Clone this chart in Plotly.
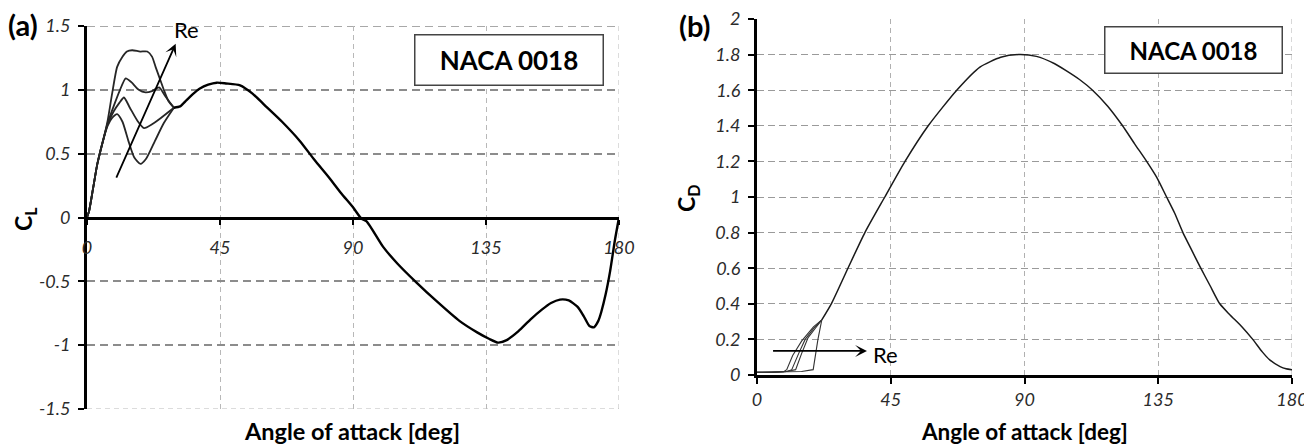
import plotly.graph_objects as go

# ---- (a) lift coefficient, NACA 0018 -------------------------------------
# stall branches for increasing Reynolds number (0 deg up to the merge point)
cl_b1_alpha = [0, 0.7, 2, 3.5, 5.75, 7, 8.5, 10.2, 12, 14, 16, 18.1, 20, 23, 26, 29.4]
cl_b1 = [0, 0.05, 0.22, 0.42, 0.63, 0.72, 0.78, 0.81, 0.75, 0.60, 0.47, 0.42, 0.46, 0.60, 0.74, 0.86]

cl_b2_alpha = [0, 0.7, 2, 3.5, 5.75, 7, 9, 11, 12.5, 14.5, 17, 19.3, 22, 25, 29.4]
cl_b2 = [0, 0.05, 0.22, 0.42, 0.63, 0.73, 0.83, 0.90, 0.94, 0.86, 0.76, 0.70, 0.73, 0.78, 0.86]

cl_b3_alpha = [0, 0.7, 2, 3.5, 5.75, 7, 9, 11, 13.1, 15, 17.5, 19.8, 22, 24.4, 26.5, 29.4]
cl_b3 = [0, 0.05, 0.22, 0.42, 0.63, 0.74, 0.87, 0.99, 1.09, 1.06, 1.00, 0.98, 0.99, 1.02, 0.95, 0.86]

cl_b4_alpha = [0, 0.7, 2, 3.5, 5.75, 7, 8.5, 10.2, 12, 13.5, 15.3, 18, 20.4, 22, 23.2, 24.6, 26, 27.6, 29.4]
cl_b4 = [0, 0.05, 0.22, 0.42, 0.63, 0.76, 0.97, 1.18, 1.26, 1.30, 1.31, 1.30, 1.30, 1.26, 1.18, 1.09, 1.00, 0.91, 0.86]

# post-stall curve shared by all Reynolds numbers
cl_alpha = [29.4, 31.5, 33.7, 36, 38.2, 41, 43.9, 47, 51.8, 56, 60.8, 66, 72, 77, 82, 86,
            90, 92.9, 94.6, 100.2, 105, 111.5, 118, 126, 132, 136, 139.1, 142, 146, 150,
            154, 157, 160, 163, 166, 168, 170, 171.5, 173, 174, 175.5, 177, 178.6, 180]
cl = [0.86, 0.87, 0.92, 0.97, 1.01, 1.04, 1.056, 1.05, 1.035, 0.97, 0.865, 0.75, 0.60, 0.45,
      0.31, 0.19, 0.08, -0.01, -0.03, -0.23, -0.36, -0.51, -0.65, -0.81, -0.90, -0.95, -0.98,
      -0.96, -0.89, -0.80, -0.72, -0.67, -0.643, -0.65, -0.70, -0.77, -0.85, -0.86, -0.81,
      -0.74, -0.60, -0.42, -0.18, 0.0]

# ---- (b) drag coefficient, NACA 0018 -------------------------------------
cd_b1_alpha = [0, 5, 9, 10, 12, 15, 17, 19, 21.8]
cd_b1 = [0.015, 0.015, 0.018, 0.03, 0.11, 0.19, 0.23, 0.27, 0.31]
cd_b2_alpha = [0, 5, 10, 11.7, 14, 16.2, 19, 21.8]
cd_b2 = [0.015, 0.015, 0.02, 0.03, 0.12, 0.20, 0.26, 0.31]
cd_b3_alpha = [0, 5, 10, 13, 15, 17.2, 19.5, 21.8]
cd_b3 = [0.015, 0.015, 0.02, 0.03, 0.12, 0.21, 0.26, 0.31]
cd_b4_alpha = [0, 5, 10, 15, 18.9, 20.5, 21.8]
cd_b4 = [0.015, 0.015, 0.018, 0.02, 0.03, 0.20, 0.31]

cd_alpha = [21.8, 25, 30.6, 36.3, 43, 49.8, 57.6, 67.2, 75, 82, 88, 94, 100, 104, 108.5, 112.9,
            118, 123, 127, 131.1, 134.5, 137.8, 140.5, 143.3, 146, 149, 152.5, 155.7, 159,
            163.2, 166.8, 170, 172.5, 176, 178, 180]
cd = [0.31, 0.40, 0.60, 0.80, 1.00, 1.20, 1.40, 1.60, 1.73, 1.785, 1.80, 1.79, 1.75, 1.71,
      1.66, 1.60, 1.51, 1.40, 1.30, 1.20, 1.11, 1.00, 0.91, 0.80, 0.71, 0.61, 0.50, 0.40,
      0.34, 0.27, 0.20, 0.13, 0.085, 0.047, 0.035, 0.03]

# ---- axis ticks ------------------------------------------------------------
alpha_ticks = [0, 45, 90, 135, 180]
alpha_ticktext = ["0", "45", "90", "135", "180"]
cl_ticks = [-1.5, -1, -0.5, 0, 0.5, 1, 1.5]
cl_ticktext = ["-1.5", "-1", "-0.5", "0", "0.5", "1", "1.5"]
cd_ticks = [0, 0.2, 0.4, 0.6, 0.8, 1.0, 1.2, 1.4, 1.6, 1.8, 2.0]
cd_ticktext = ["0", "0.2", "0.4", "0.6", "0.8", "1", "1.2", "1.4", "1.6", "1.8", "2"]

W, H = 1304, 446
FONT = "Lato"
TICKFONT = dict(family=FONT, size=18, color="#2b2b2b", style="italic")

fig = go.Figure()

for a, c in [(cl_b1_alpha, cl_b1), (cl_b2_alpha, cl_b2), (cl_b3_alpha, cl_b3), (cl_b4_alpha, cl_b4)]:
    fig.add_trace(go.Scatter(x=a, y=c, mode="lines", xaxis="x", yaxis="y",
                             line=dict(color="#262626", width=1.8, shape="spline", smoothing=0.6),
                             hoverinfo="skip"))
fig.add_trace(go.Scatter(x=cl_alpha, y=cl, mode="lines", xaxis="x", yaxis="y",
                         line=dict(color="#000000", width=2.4, shape="spline", smoothing=0.6)))

for a, c in [(cd_b1_alpha, cd_b1), (cd_b2_alpha, cd_b2), (cd_b3_alpha, cd_b3), (cd_b4_alpha, cd_b4)]:
    fig.add_trace(go.Scatter(x=a, y=c, mode="lines", xaxis="x2", yaxis="y2",
                             line=dict(color="#333333", width=1.1),
                             hoverinfo="skip"))
fig.add_trace(go.Scatter(x=cd_alpha, y=cd, mode="lines", xaxis="x2", yaxis="y2",
                         line=dict(color="#1a1a1a", width=1.5, shape="spline", smoothing=0.6)))

# plot-area domains (pixels -> paper fractions)
xd1 = [87 / W, 619 / W]
yd1 = [1 - 409 / H, 1 - 26 / H]
xd2 = [757 / W, 1292 / W]
yd2 = [1 - 375 / H, 1 - 19 / H]

# in panel (a) the angle axis runs along CL = 0
cl_lo, cl_hi = cl_ticks[0], cl_ticks[-1]
zero_pos = yd1[0] + (0 - cl_lo) / (cl_hi - cl_lo) * (yd1[1] - yd1[0])

GRID_V = dict(color="#b8b8b8", width=1, dash="5px,4px")
GRID_H1 = dict(color="#8c8c8c", width=1.6, dash="8px,5px")
GRID_H2 = dict(color="#9a9a9a", width=1.3, dash="7px,4px")

fig.update_layout(
    width=W, height=H,
    margin=dict(l=0, r=0, t=0, b=0),
    paper_bgcolor="white", plot_bgcolor="white",
    showlegend=False,
    xaxis=dict(domain=xd1, range=[0, 180], anchor="free", position=zero_pos,
               tickvals=alpha_ticks, ticktext=alpha_ticktext, tickfont=TICKFONT,
               ticks="outside", ticklen=5, tickwidth=2, tickcolor="black",
               ticklabelstandoff=8, ticklabeloverflow="allow",
               showline=True, linewidth=3, linecolor="black",
               showgrid=True, gridcolor=GRID_V["color"], gridwidth=GRID_V["width"],
               griddash=GRID_V["dash"],
               zeroline=False, automargin=False, fixedrange=True),
    yaxis=dict(domain=yd1, range=[cl_lo, cl_hi], anchor="x",
               tickvals=cl_ticks, ticktext=cl_ticktext, tickfont=TICKFONT,
               ticks="outside", ticklen=6, tickwidth=2, tickcolor="black",
               ticklabelstandoff=4,
               showline=True, linewidth=3, linecolor="black",
               showgrid=True, gridcolor=GRID_H1["color"], gridwidth=GRID_H1["width"],
               griddash=GRID_H1["dash"],
               zeroline=False, automargin=False, fixedrange=True),
    xaxis2=dict(domain=xd2, range=[0, 180], anchor="y2",
                tickvals=alpha_ticks, ticktext=alpha_ticktext, tickfont=TICKFONT,
                ticks="outside", ticklen=6, tickwidth=2, tickcolor="black",
                ticklabelstandoff=0, ticklabeloverflow="allow",
                showline=True, linewidth=3, linecolor="black",
                showgrid=True, gridcolor="#b0b0b0", gridwidth=1, griddash="5px,4px",
                zeroline=False, automargin=False, fixedrange=True),
    yaxis2=dict(domain=yd2, range=[0, 2], anchor="x2",
                tickvals=cd_ticks, ticktext=cd_ticktext, tickfont=TICKFONT,
                ticks="outside", ticklen=6, tickwidth=2, tickcolor="black",
                ticklabelstandoff=4,
                showline=True, linewidth=3, linecolor="black",
                showgrid=True, gridcolor=GRID_H2["color"], gridwidth=GRID_H2["width"],
                griddash=GRID_H2["dash"],
                zeroline=False, automargin=False, fixedrange=True),
)

# grid lines along the outer edges of each plot area
shapes = [
    dict(type="line", xref="x domain", yref="y", x0=0, x1=1, y0=cl_hi, y1=cl_hi,
         line=GRID_H1, layer="below"),
    dict(type="line", xref="x domain", yref="y", x0=0, x1=1, y0=cl_lo, y1=cl_lo,
         line=GRID_V, layer="below"),
    dict(type="line", xref="x", yref="y domain", x0=180, x1=180, y0=0, y1=1,
         line=GRID_V, layer="below"),
    dict(type="line", xref="x2", yref="y2 domain", x0=180, x1=180, y0=0, y1=1,
         line=dict(color="#b0b0b0", width=1, dash="5px,4px"), layer="below"),
]
fig.update_layout(shapes=shapes)

C = dict(xanchor="center", yanchor="middle", xref="paper", yref="paper", showarrow=False)
ann = []
# panel letters
ann.append(dict(text="<b>(a)</b>", x=23 / W, y=1 - 24 / H,
                font=dict(family=FONT, size=29, color="black"), **C))
ann.append(dict(text="<b>(b)</b>", x=695 / W, y=1 - 26 / H,
                font=dict(family=FONT, size=29, color="black"), **C))
# axis titles
ann.append(dict(text="<b>C<sub>L</sub></b>", x=24 / W, y=1 - 219 / H, textangle=-90,
                font=dict(family=FONT, size=23, color="black"), **C))
ann.append(dict(text="<b>C<sub>D</sub></b>", x=688 / W, y=1 - 198 / H, textangle=-90,
                font=dict(family=FONT, size=23, color="black"), **C))
ann.append(dict(text="<b>Angle of attack [deg]</b>", x=352 / W, y=1 - 431 / H,
                font=dict(family=FONT, size=23.5, color="black"), **C))
ann.append(dict(text="<b>Angle of attack [deg]</b>", x=1024 / W, y=1 - 431 / H,
                font=dict(family=FONT, size=22.5, color="black"), **C))
# airfoil labels
ann.append(dict(text="<b>NACA 0018</b>", x=508.5 / W, y=1 - 59.5 / H,
                width=187, height=49, bgcolor="white",
                bordercolor="#444444", borderwidth=1.5, borderpad=0,
                font=dict(family=FONT, size=26, color="black"), **C))
ann.append(dict(text="<b>NACA 0018</b>", x=1193 / W, y=1 - 50.5 / H,
                width=176, height=45, bgcolor="white",
                bordercolor="#444444", borderwidth=1.5, borderpad=0,
                font=dict(family=FONT, size=24, color="black"), **C))
# Reynolds-number arrows
ann.append(dict(x=30, y=1.36, ax=9.7, ay=0.30, xref="x", yref="y", axref="x", ayref="y",
                text="", showarrow=True, arrowhead=3, arrowsize=1.1, arrowwidth=1.8,
                arrowcolor="black"))
ann.append(dict(text="Re", x=33.8, y=1.475, xref="x", yref="y", showarrow=False,
                xanchor="center", yanchor="middle",
                font=dict(family=FONT, size=22, color="black")))
ann.append(dict(x=37, y=0.135, ax=4.9, ay=0.135, xref="x2", yref="y2", axref="x2", ayref="y2",
                text="", showarrow=True, arrowhead=3, arrowsize=1.1, arrowwidth=1.8,
                arrowcolor="black"))
ann.append(dict(text="Re", x=43.4, y=0.118, xref="x2", yref="y2", showarrow=False,
                xanchor="center", yanchor="middle",
                font=dict(family=FONT, size=22, color="black")))
fig.update_layout(annotations=ann)

fig.write_html("out.html")
